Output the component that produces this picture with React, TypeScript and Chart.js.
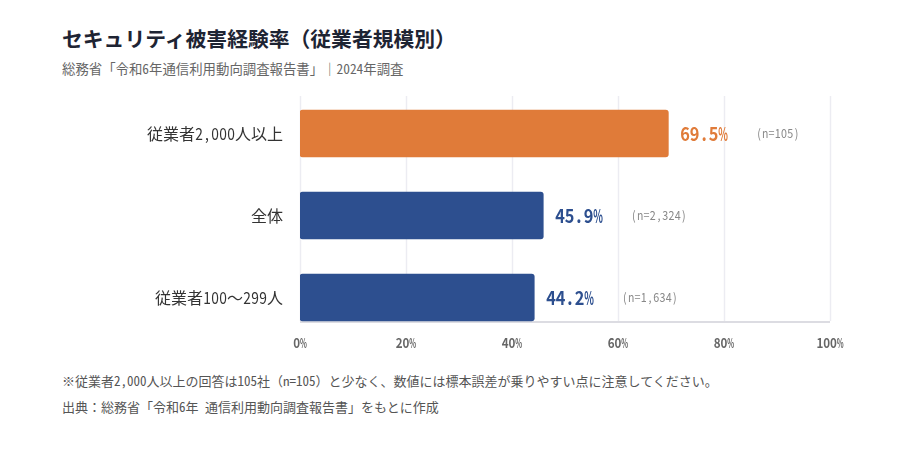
import { useEffect, useRef } from "react";
import Chart from "chart.js/auto";

const FONT = '"Noto Sans CJK JP", sans-serif';

const categories = ["従業者2,000人以上", "全体", "従業者100～299人"];
const rates = [69.5, 45.9, 44.2];
const sampleSizes = ["(n=105)", "(n=2,324)", "(n=1,634)"];
const barColors = ["#E07B39", "#2D4F8F", "#2D4F8F"];
const xTicks = [0, 20, 40, 60, 80, 100];

// half-width latin, full-width CJK, like a mono CJK face
const isHalf = (ch: string) => ch.charCodeAt(0) < 0x2000;

const monoWidth = (text: string, size: number) =>
    Array.from(text).reduce((w, ch) => w + (isHalf(ch) ? size / 2 : size), 0);

const drawMono = (ctx: CanvasRenderingContext2D, text: string, x: number, y: number, size: number, align: string) => {
    const w = monoWidth(text, size);
    let pos = align === "right" ? x - w : align === "center" ? x - w / 2 : x;
    ctx.textAlign = "center";
    ctx.textBaseline = "middle";
    Array.from(text).forEach((ch) => {
        const cw = isHalf(ch) ? size / 2 : size;
        ctx.save();
        ctx.translate(pos + cw / 2, y);
        if (isHalf(ch)) {
            const mw = ctx.measureText(ch).width;
            ctx.scale(Math.min(0.86, (cw * 1.02) / mw), 1);
        }
        ctx.fillText(ch, 0, 0);
        ctx.restore();
        pos += cw;
    });
    return w;
};

const labelPlugin = {
    id: "barLabels",
    beforeDatasetsDraw(chart: any) {
        const { ctx } = chart;
        const x = chart.scales.x;
        const bars = chart.getDatasetMeta(0).data;
        const last = bars[bars.length - 1];
        const top = chart.chartArea.top + 3.5;
        const bottom = last.y + last.height / 2;
        ctx.save();
        ctx.strokeStyle = "#ECECF2";
        ctx.lineWidth = 1.5;
        xTicks.forEach((v) => {
            const px = Math.round(x.getPixelForValue(v)) + 0.5;
            ctx.beginPath();
            ctx.moveTo(px, top);
            ctx.lineTo(px, bottom);
            ctx.stroke();
        });
        ctx.strokeStyle = "#DCDCE2";
        ctx.lineWidth = 2;
        ctx.beginPath();
        ctx.moveTo(x.getPixelForValue(0), bottom + 1);
        ctx.lineTo(x.getPixelForValue(100), bottom + 1);
        ctx.stroke();
        ctx.restore();
    },
    afterDatasetsDraw(chart: any) {
        const { ctx, chartArea } = chart;
        const x = chart.scales.x;
        const y = chart.scales.y;
        const bars = chart.getDatasetMeta(0).data;
        ctx.save();

        // category labels
        ctx.font = `16px ${FONT}`;
        ctx.fillStyle = "#333333";
        categories.forEach((c, i) => {
            drawMono(ctx, c, chartArea.left - 17, y.getPixelForValue(i), 16, "right");
        });

        // percent ticks
        ctx.font = `bold 13.5px ${FONT}`;
        ctx.fillStyle = "#666666";
        xTicks.forEach((v) => {
            drawMono(ctx, v + "%", x.getPixelForValue(v), chartArea.bottom + 4.5, 13.5, "center");
        });

        // value and sample size labels
        bars.forEach((bar: any, i: number) => {
            const text = rates[i].toFixed(1) + "%";
            ctx.font = `bold 19px ${FONT}`;
            ctx.fillStyle = barColors[i];
            const start = bar.x + 12;
            const w = drawMono(ctx, text, start, bar.y, 19, "left");
            ctx.font = `12.5px ${FONT}`;
            ctx.fillStyle = "#888888";
            drawMono(ctx, sampleSizes[i], start + w + 28, bar.y, 12.5, "left");
        });
        ctx.restore();
    },
};

const SecurityChart = () => {
    const canvasRef = useRef<HTMLCanvasElement>(null);

    useEffect(() => {
        if (!canvasRef.current) return;
        const chart = new Chart(canvasRef.current, {
            type: "bar",
            data: {
                labels: categories,
                datasets: [
                    {
                        data: rates,
                        backgroundColor: barColors,
                        borderRadius: 3,
                        borderSkipped: false,
                        barThickness: 47,
                    },
                ],
            },
            options: {
                indexAxis: "y",
                animation: false,
                responsive: false,
                layout: { padding: { top: 12.5, right: 70, left: 0, bottom: 0 } },
                plugins: {
                    legend: { display: false },
                    tooltip: { enabled: false },
                },
                scales: {
                    x: {
                        min: 0,
                        max: 100,
                        afterFit: (s: any) => {
                            s.height = 21.5;
                        },
                        afterBuildTicks: (s: any) => {
                            s.ticks = xTicks.map((v) => ({ value: v }));
                        },
                        grid: { display: false },
                        border: { display: false },
                        ticks: { display: false },
                    },
                    y: {
                        afterFit: (s: any) => {
                            s.width = 300;
                        },
                        grid: { display: false, drawTicks: false },
                        border: { display: false },
                        ticks: { display: false },
                    },
                },
            },
            plugins: [labelPlugin],
        });
        return () => {
            chart.destroy();
        };
    }, []);

    return <canvas ref={canvasRef} width={900} height={280} style={{ position: "absolute", left: 0, top: 80 }} />;
};

// latin runs get the font's half-width forms, CJK stays as is
const MonoText = ({ text }: { text: string }) => (
    <>
        {text.split(/([\x20-\x7e]+)/).map((part, i) =>
            /^[\x20-\x7e]+$/.test(part) ? (
                <span key={i} style={{ fontFeatureSettings: '"hwid"' }}>
                    {part}
                </span>
            ) : (
                part
            )
        )}
    </>
);

const textBase: any = {
    position: "absolute",
    left: 62,
    whiteSpace: "nowrap",
    textSpacingTrim: "space-all",
};

export default function App() {
    useEffect(() => {
        document.body.style.margin = "0";
    }, []);

    return (
        <div style={{ position: "absolute", left: 0, top: 0, width: 900, height: 460, background: "#fff", fontFamily: FONT }}>
            <div style={{ ...textBase, top: 24, fontSize: 20.8, fontWeight: "bold", color: "#1E2433", lineHeight: "28px" }}>
                <MonoText text="セキュリティ被害経験率（従業者規模別）" />
            </div>
            <div style={{ ...textBase, top: 59, fontSize: 13.4, color: "#666", lineHeight: "18px" }}>
                <MonoText text="総務省「令和6年通信利用動向調査報告書」｜2024年調査" />
            </div>
            <SecurityChart />
            <div style={{ ...textBase, top: 372, fontSize: 13, color: "#555", lineHeight: "18px" }}>
                <MonoText text="※従業者2,000人以上の回答は105社（n=105）と少なく、数値には標本誤差が乗りやすい点に注意してください。" />
            </div>
            <div style={{ ...textBase, top: 398, fontSize: 13, color: "#555", lineHeight: "18px" }}>
                <MonoText text="出典：総務省「令和6年 通信利用動向調査報告書」をもとに作成" />
            </div>
        </div>
    );
}
